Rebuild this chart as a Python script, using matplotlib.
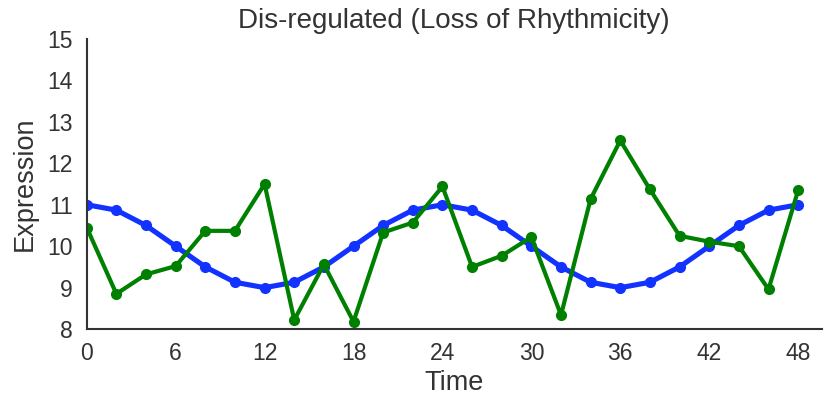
import matplotlib
matplotlib.use("Agg")
import matplotlib.pyplot as plt
import seaborn as sns

# sampling times (hours)
time_points = [0, 2, 4, 6, 8, 10, 12, 14, 16, 18, 20, 22, 24,
               26, 28, 30, 32, 34, 36, 38, 40, 42, 44, 46, 48]

# rhythmic reference profile
rhythmic = [11.0, 10.87, 10.5, 10.0, 9.5, 9.13, 9.0, 9.13, 9.5, 10.0, 10.5, 10.87, 11.0,
            10.87, 10.5, 10.0, 9.5, 9.13, 9.0, 9.13, 9.5, 10.0, 10.5, 10.87, 11.0]

# dis-regulated profile
disregulated = [10.45, 8.85, 9.32, 9.52, 10.37, 10.37, 11.5, 8.22, 9.56, 8.18, 10.33, 10.57, 11.44,
                9.5, 9.77, 10.22, 8.34, 11.14, 12.55, 11.37, 10.25, 10.11, 10.0, 8.96, 11.35]

x_ticks = [0, 6, 12, 18, 24, 30, 36, 42, 48]
y_ticks = [8, 9, 10, 11, 12, 13, 14, 15]

sns.set_style("white")
plt.rcParams['font.family'] = ['Liberation Sans', 'DejaVu Sans']

fig = plt.figure(figsize=(8.26, 3.97), dpi=100)
ax = fig.add_axes([0.105, 0.171, 0.89, 0.731])

ax.plot(time_points, rhythmic, color='#1232ff', lw=3.7, marker='o', markersize=7)
ax.plot(time_points, disregulated, color='#008000', lw=3.0, marker='o', markersize=7)

ax.set_xlim(0, 49.6)
ax.set_ylim(8, 15)
ax.set_xticks(x_ticks)
ax.set_yticks(y_ticks)
ax.tick_params(axis='x', labelsize=16.5, pad=5.5)
ax.tick_params(axis='y', labelsize=16.5, pad=6.3)
for lab in ax.get_xticklabels() + ax.get_yticklabels():
    lab.set_color('#333333')

ax.set_title("Dis-regulated (Loss of Rhythmicity)", fontsize=20, color='#333333', pad=7.5)
ax.set_xlabel("Time", fontsize=19.5, color='#333333', labelpad=4)
ax.set_ylabel("Expression", fontsize=19.5, color='#333333', labelpad=7)

sns.despine(ax=ax)
for s in ['left', 'bottom']:
    ax.spines[s].set_color('#333333')
    ax.spines[s].set_linewidth(1.5)

fig.savefig("out.png", dpi=100)
